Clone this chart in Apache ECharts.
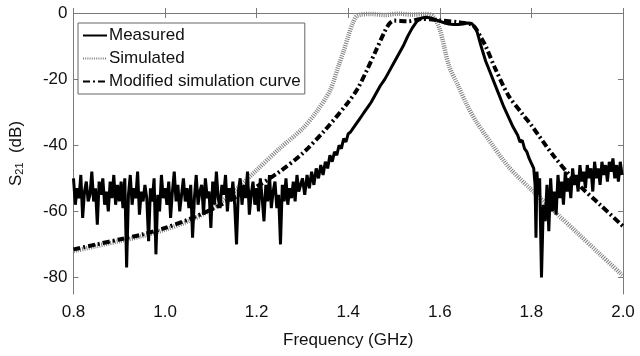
<!DOCTYPE html>
<html>
<head>
<meta charset="utf-8">
<script src="https://cdn.jsdelivr.net/npm/echarts@6/dist/echarts.min.js"></script>
<style>
  html, body { margin: 0; padding: 0; background: #fff; }
  #chart { width: 640px; height: 356px; }
</style>
</head>
<body>
<div id="chart"></div>
<script>
// legend names
var seriesNames = ['Measured', 'Simulated', 'Modified simulation curve'];

// axis ticks
var xTicks = [0.8, 1.0, 1.2, 1.4, 1.6, 1.8, 2.0];
var yTicks = [0, -20, -40, -60, -80];

// measured, noisy floor below the passband: 0.800 .. 1.296 GHz, every 0.004 GHz
var measuredLowStart = 0.8;
var measuredLowStep = 0.004;
var measuredLowDb = [
    -50, -58, -53, -56, -49, -62, -54, -51, -57, -55,
    -48, -57, -53, -64, -51, -55, -50, -58, -54, -60,
    -51, -56, -49, -58, -52, -57, -51, -59, -50, -77,
    -55, -49, -58, -53, -56, -48, -61, -54, -57, -52,
    -56, -69, -53, -57, -50, -73, -55, -60, -49, -56,
    -53, -58, -51, -62, -54, -48, -57, -52, -60, -55,
    -50, -57, -53, -59, -52, -68, -56, -49, -58, -54,
    -52, -61, -50, -56, -54, -65, -51, -58, -48, -56,
    -59, -52, -55, -49, -60, -53, -57, -51, -58, -70,
    -54, -50, -58, -52, -56, -48, -61, -55, -51, -58,
    -53, -60, -50, -56, -63, -52, -57, -49, -59, -54,
    -51, -59, -55, -70, -52, -57, -50, -58, -53, -56,
    -51, -57, -49, -54
];

// measured, passband part [GHz, dB]
var measuredBand = [
    [1.300, -50], [1.305, -55], [1.310, -49], [1.315, -53], [1.320, -48],
    [1.325, -52], [1.330, -47], [1.335, -50], [1.340, -46], [1.345, -49],
    [1.350, -45], [1.355, -47], [1.360, -43], [1.365, -45], [1.370, -42],
    [1.375, -43], [1.380, -40], [1.385, -41], [1.390, -38], [1.395, -39],
    [1.400, -36.5], [1.405, -36], [1.410, -35], [1.415, -34], [1.420, -33],
    [1.425, -32], [1.430, -31], [1.435, -30], [1.440, -29], [1.445, -28],
    [1.450, -27], [1.460, -24.5], [1.470, -22], [1.480, -20], [1.490, -17.5],
    [1.500, -15], [1.510, -12.5], [1.520, -10], [1.530, -7], [1.540, -4.5],
    [1.550, -2.5], [1.560, -1.5], [1.570, -1.3], [1.580, -1.5], [1.590, -2],
    [1.600, -2.5], [1.610, -3], [1.620, -3.3], [1.630, -3.5], [1.640, -3.5],
    [1.650, -3.3], [1.660, -3], [1.670, -3.2], [1.680, -5], [1.690, -10],
    [1.700, -14.5], [1.710, -18], [1.720, -21.5], [1.730, -25], [1.740, -28.5],
    [1.750, -31.5], [1.760, -34.5], [1.770, -37], [1.775, -39], [1.780, -38.5],
    [1.785, -41], [1.790, -42], [1.795, -44], [1.800, -45.5], [1.805, -47],
    [1.808, -52], [1.810, -68], [1.812, -48], [1.815, -55], [1.818, -50],
    [1.822, -80]
];

// measured, noisy floor above the passband: 1.826 .. 1.998 GHz, every 0.004 GHz
var measuredHighStart = 1.826;
var measuredHighStep = 0.004;
var measuredHighDb = [
    -58, -63, -52, -66, -50, -60, -54, -61, -49, -56,
    -51, -58, -48, -54, -50, -56, -47, -52, -49, -54,
    -46, -51, -48, -53, -46, -50, -47, -54, -45, -50,
    -47, -52, -45, -49, -46, -51, -45, -48, -44, -50,
    -46, -51, -45, -49
];

// simulated response [GHz, dB]
var simulated = [
    [0.80, -72], [0.85, -70.5], [0.90, -69], [0.95, -67.5], [1.00, -65.5],
    [1.05, -63], [1.10, -59.5], [1.15, -54], [1.20, -47.5], [1.25, -41],
    [1.30, -35], [1.33, -30], [1.36, -23.5], [1.38, -15.5], [1.39, -11.5],
    [1.40, -7], [1.41, -3], [1.42, -0.8], [1.45, -0.3], [1.48, -0.6],
    [1.51, -0.2], [1.54, -0.5], [1.57, -0.3], [1.585, -1], [1.60, -5],
    [1.62, -16], [1.64, -22], [1.66, -28], [1.68, -33], [1.70, -37],
    [1.75, -46.5], [1.80, -53.5], [1.85, -60], [1.90, -66.5], [1.95, -73],
    [2.00, -79.5]
];

// modified simulation [GHz, dB]
var modified = [
    [0.80, -71.5], [0.85, -70], [0.90, -68.5], [0.95, -67], [1.00, -65],
    [1.05, -62.5], [1.10, -59.5], [1.15, -56], [1.20, -52.5], [1.25, -48],
    [1.30, -42.5], [1.35, -35.3], [1.40, -27], [1.42, -23], [1.44, -17.5],
    [1.46, -11.5], [1.48, -5.5], [1.49, -3.2], [1.50, -2.3], [1.53, -2.5],
    [1.56, -1.8], [1.60, -2.2], [1.64, -2.8], [1.67, -3.5], [1.68, -5],
    [1.69, -7.5], [1.70, -10], [1.72, -16.5], [1.75, -25], [1.78, -30.5],
    [1.80, -34], [1.85, -43.5], [1.90, -51.5], [1.95, -58], [2.00, -64.5]
];

// build measured series
var measured = [];
measuredLowDb.forEach(function (v, i) {
    measured.push([+(measuredLowStart + i * measuredLowStep).toFixed(3), v]);
});
measuredBand.forEach(function (p) { measured.push(p); });
measuredHighDb.forEach(function (v, i) {
    measured.push([+(measuredHighStart + i * measuredHighStep).toFixed(3), v]);
});

var chart = echarts.init(document.getElementById('chart'));

var axisGray = '#7a7a7a';
var font = 'Liberation Sans, Arial, sans-serif';

var option = {
    backgroundColor: '#fff',
    animation: false,
    grid: { left: 70, right: 17, top: 13, bottom: 62 },
    legend: {
        orient: 'vertical',
        left: 78,
        top: 23,
        padding: [4, 4, 4, 4],
        itemGap: 6,
        itemWidth: 24,
        itemHeight: 15,
        borderColor: '#666',
        borderWidth: 1,
        backgroundColor: '#fff',
        itemStyle: { opacity: 0 },
        textStyle: { fontFamily: font, fontSize: 17, color: '#111', padding: [0, 0, 0, -3] },
        data: seriesNames
    },
    xAxis: [{
        type: 'value',
        min: 0.8,
        max: 2.0,
        interval: 0.2,
        name: 'Frequency (GHz)',
        nameLocation: 'middle',
        nameGap: 38,
        nameTextStyle: { fontFamily: font, fontSize: 17, color: '#111' },
        axisLine: { show: true, lineStyle: { color: axisGray, width: 1 } },
        axisTick: { show: true, inside: true, length: 5, lineStyle: { color: axisGray } },
        axisLabel: {
            margin: 10, fontFamily: font, fontSize: 17, color: '#111',
            formatter: function (v) { return v.toFixed(1); }
        },
        splitLine: { show: false }
    }, {
        type: 'value',
        position: 'top',
        min: 0.8,
        max: 2.0,
        interval: 0.2,
        axisLine: { show: true, lineStyle: { color: axisGray, width: 1 } },
        axisTick: { show: true, inside: true, length: 5, lineStyle: { color: axisGray } },
        axisLabel: { show: false },
        splitLine: { show: false }
    }],
    yAxis: [{
        type: 'value',
        min: -85,
        max: 0,
        name: 'S{sub|21}  (dB)',
        nameLocation: 'middle',
        nameGap: 48,
        nameRotate: 90,
        nameTextStyle: {
            fontFamily: font, fontSize: 17, color: '#111',
            rich: { sub: { fontFamily: font, fontSize: 11, color: '#111', verticalAlign: 'bottom', padding: [7, 0, 0, 0] } }
        },
        axisLine: { show: true, lineStyle: { color: axisGray, width: 1 } },
        axisTick: { show: true, inside: true, length: 5, lineStyle: { color: axisGray }, customValues: yTicks },
        axisLabel: { margin: 6, fontFamily: font, fontSize: 17, color: '#111', customValues: yTicks },
        splitLine: { show: false }
    }, {
        type: 'value',
        position: 'right',
        min: -85,
        max: 0,
        axisLine: { show: true, lineStyle: { color: axisGray, width: 1 } },
        axisTick: { show: true, inside: true, length: 5, lineStyle: { color: axisGray }, customValues: yTicks },
        axisLabel: { show: false },
        splitLine: { show: false }
    }],
    series: [{
        name: seriesNames[0],
        type: 'line',
        data: measured,
        symbol: 'none',
        lineStyle: { color: '#000', width: 3 },
        itemStyle: { color: '#000' },
        z: 3
    }, {
        name: seriesNames[1],
        type: 'line',
        data: simulated,
        symbol: 'none',
        smooth: 0.3,
        lineStyle: { color: '#808080', width: 4.5, type: [1, 1.2], cap: 'butt' },
        itemStyle: { color: '#808080' },
        z: 2
    }, {
        name: seriesNames[2],
        type: 'line',
        data: modified,
        symbol: 'none',
        smooth: 0.3,
        lineStyle: { color: '#000', width: 4, type: [7, 3, 2, 3], cap: 'butt' },
        itemStyle: { color: '#000' },
        z: 4
    }]
};

chart.setOption(option);
</script>
</body>
</html>
